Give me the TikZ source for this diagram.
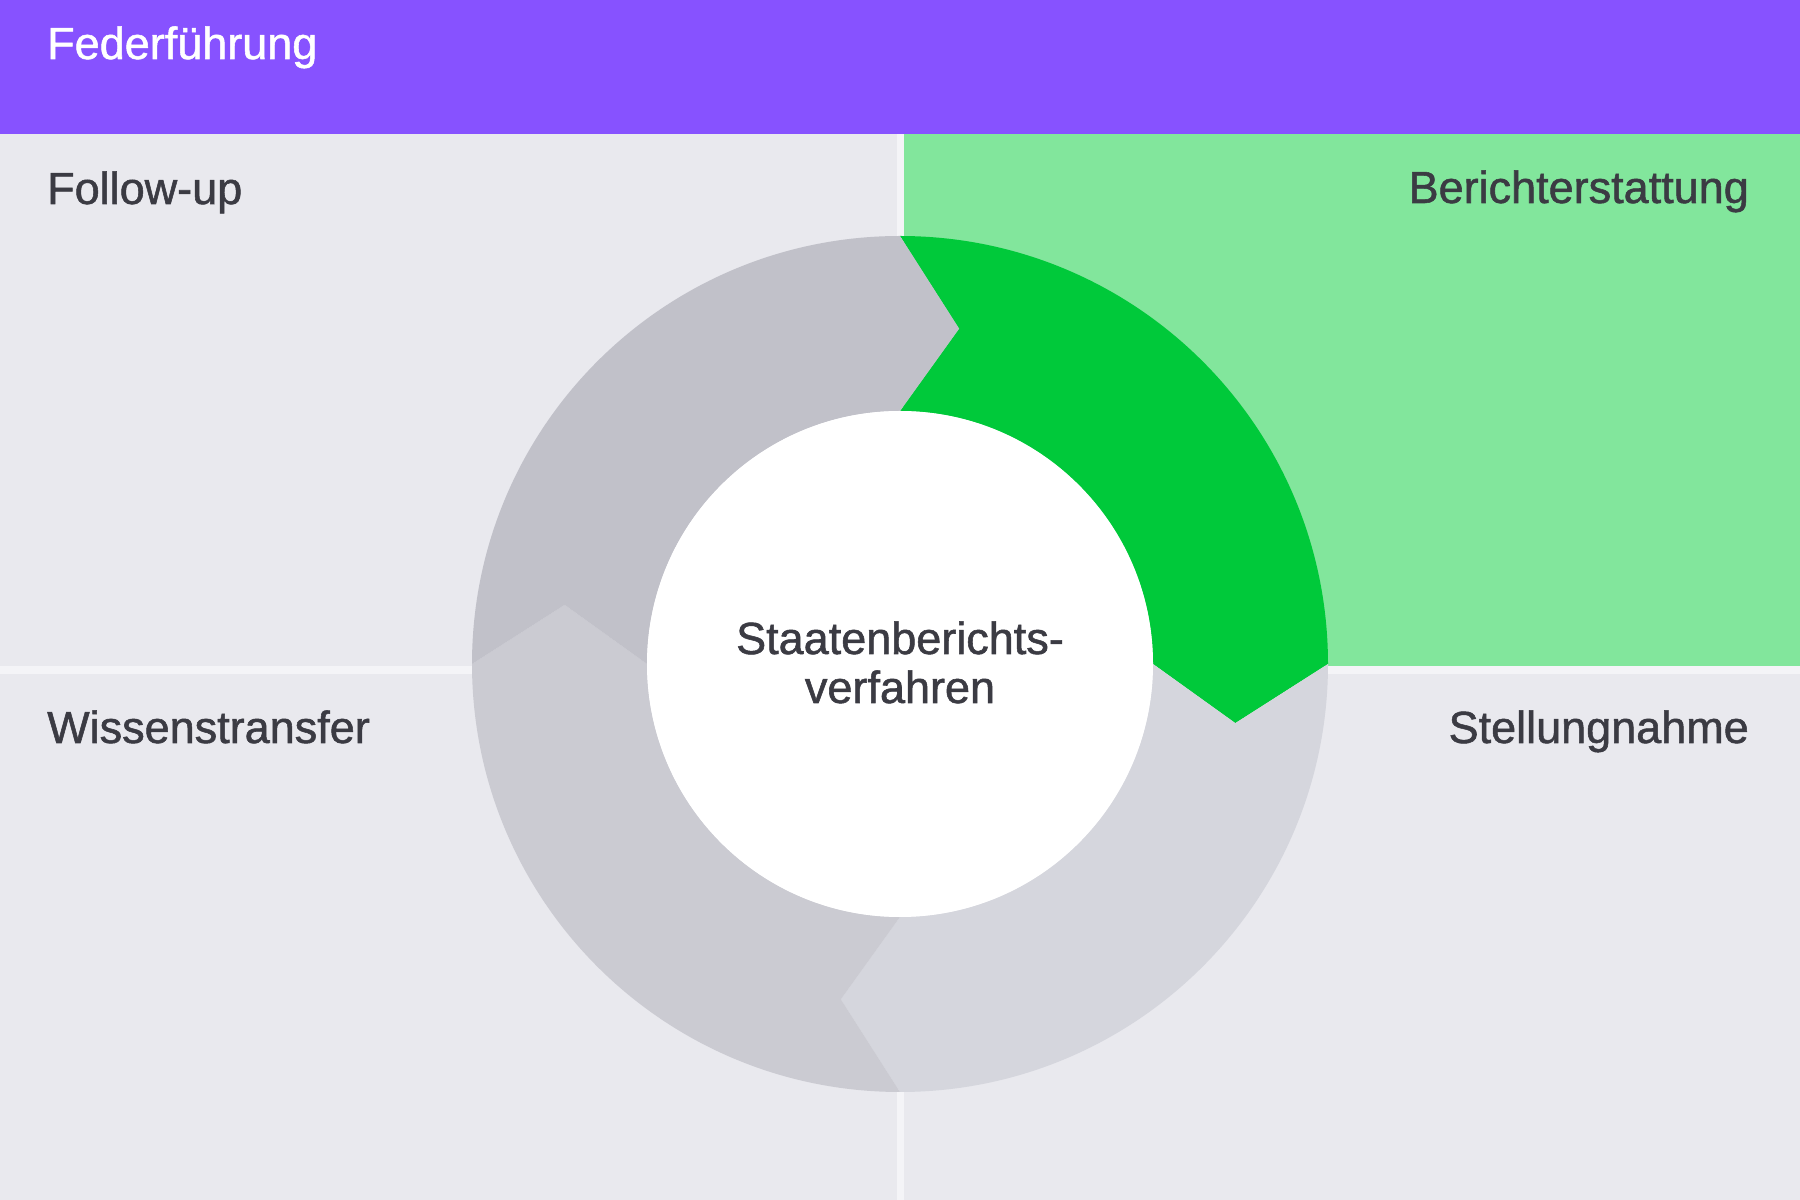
\documentclass[tikz,border=0pt]{standalone}
\usepackage{fontspec}
\setmainfont{Liberation Sans}
\newfontfamily\medfont[FakeBold=1.2]{Liberation Sans}
\definecolor{purp}{HTML}{8752FF}
\definecolor{panel}{HTML}{E9E9EE}
\definecolor{divid}{HTML}{F4F4F7}
\definecolor{lgreen}{HTML}{82E69C}
\definecolor{dgreen}{HTML}{00C93A}
\definecolor{segA}{HTML}{C1C1C9}
\definecolor{segB}{HTML}{CBCBD2}
\definecolor{segC}{HTML}{D5D6DD}
\definecolor{txt}{HTML}{3B3B43}
\tikzset{
  lbl/.style={inner sep=0pt, font=\medfont\fontsize{45}{50}\selectfont, text=txt},
}
\newcommand{\ringseg}[3]{% color, start angle, end angle
  \fill[#1] (#2:428) arc[start angle=#2, end angle=#3, radius=428]
    -- ({#3-10}:340.5) -- (#3:253)
    arc[start angle=#3, end angle=#2, radius=253]
    -- ({#2-10}:340.5) -- cycle;}
\begin{document}
\begin{tikzpicture}[x=1pt,y=1pt]
\useasboundingbox (0,0) rectangle (1800,1200);
\fill[divid] (0,0) rectangle (1800,1200);
\fill[purp] (0,1066) rectangle (1800,1200);
\fill[panel] (0,534) rectangle (897,1066);
\fill[lgreen] (904,534) rectangle (1800,1066);
\fill[panel] (0,0) rectangle (897,526);
\fill[panel] (904,0) rectangle (1800,526);
\begin{scope}[shift={(900,536)}]
  \ringseg{dgreen}{90}{0}
  \ringseg{segC}{0}{-90}
  \ringseg{segB}{-90}{-180}
  \ringseg{segA}{180}{90}
  \fill[white] (0,0) circle[radius=253];
\end{scope}
\node[lbl, text=white, anchor=base west] (head) at (47,1141) {Federführung};
\node[lbl, anchor=base west] (fu) at (47,996) {Follow-up};
\node[lbl, anchor=base east] (ber) at (1749,997) {Berichterstattung};
\node[lbl, anchor=base west] (wis) at (47,457) {Wissenstransfer};
\node[lbl, anchor=base east] (ste) at (1749,457) {Stellungnahme};
\node[lbl, anchor=base] (ctra) at (900,546) {Staatenberichts-};
\node[lbl, anchor=base] (ctrb) at (900,497) {verfahren};
\end{tikzpicture}
\end{document}
